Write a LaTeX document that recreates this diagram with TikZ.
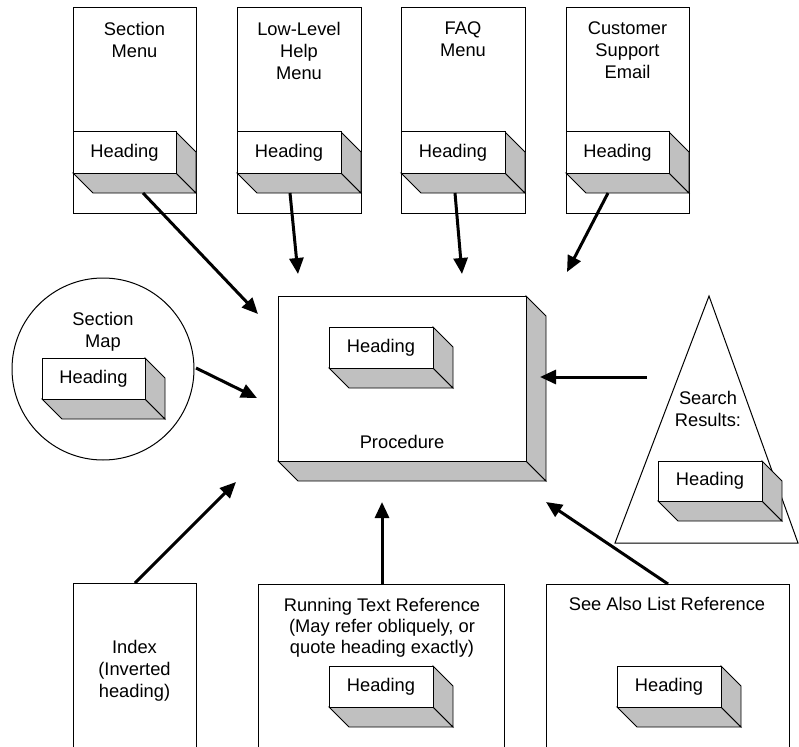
\documentclass[tikz,border=0pt]{standalone}
\usepackage{fontspec}
\setmainfont{Liberation Sans}
\usetikzlibrary{arrows.meta}
\definecolor{facegray}{HTML}{C0C0C0}
\tikzset{
  outline/.style={draw=black, line width=1pt, fill=white, inner sep=0pt, outer sep=0pt},
  shade3d/.style={draw=black, line width=0.9pt, fill=facegray, line join=miter},
  txt/.style={font=\fontsize{18.3}{22}\selectfont, align=center, inner sep=0pt},
  link/.style={line width=3pt, -{Triangle[length=16pt,width=14pt]}},
}
% name, x, y (front top-left), width, height, depth, text
\newcommand\mkcuboid[7]{%
  \filldraw[shade3d] (#2,#3+#5) -- (#2+#4,#3+#5) -- (#2+#4+#6,#3+#5+#6) -- (#2+#6,#3+#5+#6) -- cycle;
  \filldraw[shade3d] (#2+#4,#3) -- (#2+#4+#6,#3+#6) -- (#2+#4+#6,#3+#5+#6) -- (#2+#4,#3+#5) -- cycle;
  \node[outline, txt, minimum width=#4pt, minimum height=#5pt, anchor=north west] (#1) at (#2,#3) {#7};
}
\begin{document}
\begin{tikzpicture}[x=1pt, y=-1pt]
\useasboundingbox (0,0) rectangle (799,746);

% ---- top boxes
\node[outline, minimum width=123pt, minimum height=205pt, anchor=north west] (secmenu) at (73,8) {};
\node[txt, anchor=north] (secmenut) at (134.5,22) {Section\\Menu};
\mkcuboid{h1}{73}{132}{103}{41}{20}{Heading}

\node[outline, minimum width=124pt, minimum height=205pt, anchor=north west] (lowmenu) at (237,8) {};
\node[txt, anchor=north] (lowmenut) at (299,22) {Low-Level\\Help\\Menu};
\mkcuboid{h2}{237}{132}{104}{41}{20}{Heading}

\node[outline, minimum width=124pt, minimum height=205pt, anchor=north west] (faqmenu) at (401,8) {};
\node[txt, anchor=north] (faqmenut) at (463,22) {FAQ\\Menu};
\mkcuboid{h3}{401}{132}{104}{41}{20}{Heading}

\node[outline, minimum width=123pt, minimum height=205pt, anchor=north west] (support) at (566,8) {};
\node[txt, anchor=north] (supportt) at (627.5,22) {Customer\\Support\\Email};
\mkcuboid{h4}{566}{132}{103}{41}{20}{Heading}

% ---- section map circle
\node[outline, circle, minimum size=182pt] (secmap) at (103,369) {};
\node[txt, anchor=north] (secmapt) at (103,312) {Section\\Map};
\mkcuboid{h5}{42}{358}{103}{41}{20}{Heading}

% ---- procedure
\mkcuboid{proc}{278}{296}{248}{165}{20}{}
\mkcuboid{h6}{329}{327}{104}{41}{20}{Heading}
\node[txt, anchor=north] (proct) at (402,435) {Procedure};

% ---- search results triangle
\coordinate (apex) at (709,296);
\coordinate (tribl) at (615,543);
\coordinate (tribr) at (798,543);
\draw[line width=1pt, fill=white] (apex) -- (tribl) -- (tribr) -- cycle;
\node[txt, anchor=north] (searcht) at (708,391) {Search\\Results:};
\mkcuboid{h7}{658}{461}{104}{40}{20}{Heading}

% ---- bottom boxes (cut at the lower edge)
\node[minimum width=123pt, minimum height=170pt, anchor=north west, inner sep=0pt] (index) at (73,583) {};
\draw[line width=1pt] (index.south west) |- (index.north east) -- (index.south east);
\node[txt, anchor=north] (indext) at (134.5,640) {Index\\(Inverted\\heading)};

\node[minimum width=246pt, minimum height=170pt, anchor=north west, inner sep=0pt] (running) at (258,584) {};
\draw[line width=1pt] (running.south west) |- (running.north east) -- (running.south east);
\node[txt, anchor=north, font=\fontsize{18.3}{21}\selectfont] (runningt) at (382,598) {Running Text Reference\\(May refer obliquely, or\\quote heading exactly)};
\mkcuboid{h8}{329}{666}{104}{41}{20}{Heading}

\node[minimum width=243pt, minimum height=170pt, anchor=north west, inner sep=0pt] (seealso) at (546,584) {};
\draw[line width=1pt] (seealso.south west) |- (seealso.north east) -- (seealso.south east);
\node[txt, anchor=north] (seealsot) at (667,597) {See Also List Reference};
\mkcuboid{h9}{617}{666}{104}{41}{20}{Heading}

% ---- connector end points
\coordinate (s1) at (143,193);  \coordinate (e1) at (258,314);
\coordinate (s2) at (290,193);  \coordinate (e2) at (298,274);
\coordinate (s3) at (455,193);  \coordinate (e3) at (462,274);
\coordinate (s4) at (608,193);  \coordinate (e4) at (567,272);
\coordinate (s5) at (196,368);  \coordinate (e5) at (257,398);
\coordinate (s6) at (647,377);  \coordinate (e6) at (540,377);
\coordinate (s7) at (135,583);  \coordinate (e7) at (236,482);
\coordinate (s8) at (382,584);  \coordinate (e8) at (382,502);
\coordinate (s9) at (668,584);  \coordinate (e9) at (546,502);

\foreach \i in {1,...,9} { \draw[link] (s\i) -- (e\i); }
\end{tikzpicture}
\end{document}
